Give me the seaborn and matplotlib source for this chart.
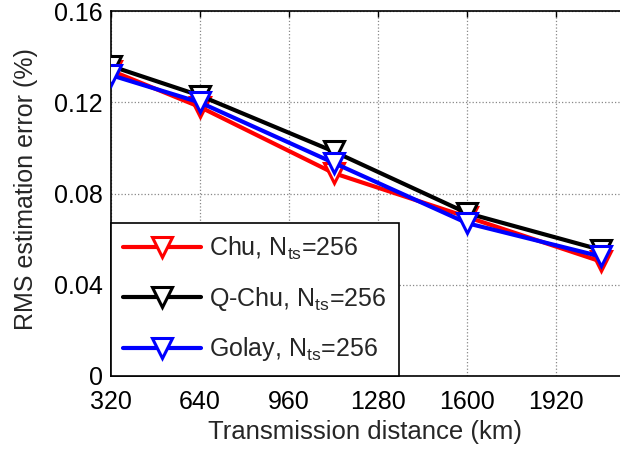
import matplotlib
matplotlib.use("Agg")
import matplotlib.pyplot as plt
import seaborn as sns
import pandas as pd

distance_km = [320, 640, 1120, 1600, 2080]
chu = [0.134, 0.118, 0.089, 0.0697, 0.0502]
qchu = [0.136, 0.123, 0.0985, 0.0714, 0.0553]
golay = [0.132, 0.120, 0.0935, 0.0670, 0.0524]
labels = ["Chu, N$_{\\rm ts}$=256", "Q-Chu, N$_{\\rm ts}$=256", "Golay, N$_{\\rm ts}$=256"]
colors = ["#ff0000", "#000000", "#0000ff"]
xticks = [320, 640, 960, 1280, 1600, 1920]
yticks = [0, 0.04, 0.08, 0.12, 0.16]
ytick_labels = ["0", "0.04", "0.08", "0.12", "0.16"]

sns.set_theme(style="white")
plt.rcParams["font.family"] = ["Liberation Sans", "DejaVu Sans"]
plt.rcParams["mathtext.fontset"] = "custom"
plt.rcParams["mathtext.rm"] = "Liberation Sans"
plt.rcParams["mathtext.it"] = "Liberation Sans:italic"

FS = 18

fig = plt.figure(figsize=(6.2, 4.55), dpi=100)
ax = fig.add_axes([0.179, 0.174, 0.862, 0.801])

frames = []
for lab, vals in zip(labels, [chu, qchu, golay]):
    frames.append(pd.DataFrame({"x": distance_km, "y": vals, "series": lab}))
df = pd.concat(frames, ignore_index=True)

for lab, col in zip(labels, colors):
    sub = df[df["series"] == lab]
    sns.lineplot(data=sub, x="x", y="y", ax=ax, color=col, lw=3.0,
                 marker="v", markersize=15, markerfacecolor="white",
                 markeredgecolor=col, markeredgewidth=2.2, label=lab, zorder=3)

ax.set_xlim(320, 2240)
ax.set_ylim(0, 0.16)
ax.set_xticks(xticks)
ax.set_xticklabels([str(t) for t in xticks])
ax.set_yticks(yticks)
ax.set_yticklabels(ytick_labels)
ax.tick_params(axis="both", direction="in", length=4, width=1, labelsize=FS,
               top=True, right=True, colors="black")
ax.tick_params(axis="x", pad=10.5)
ax.tick_params(axis="y", pad=6)
ax.grid(True, linestyle=":", color="#888888", linewidth=0.9)
for s in ax.spines.values():
    s.set_color("black")
    s.set_linewidth(1.2)

ax.set_xlabel("Transmission distance (km)", fontsize=18.5)
ax.set_ylabel("RMS estimation error (%)", fontsize=FS)
ax.xaxis.set_label_coords(0.475, -0.121)
ax.yaxis.set_label_coords(-0.137, 0.513)

leg = ax.legend(loc="lower left", fontsize=FS, frameon=True, fancybox=False,
                edgecolor="black", handlelength=3.1, labelspacing=0.9,
                borderaxespad=0, borderpad=0.5, handletextpad=0.34)
leg.get_frame().set_linewidth(1.2)
leg.get_frame().set_alpha(1)

fig.savefig("out.png", dpi=100)
